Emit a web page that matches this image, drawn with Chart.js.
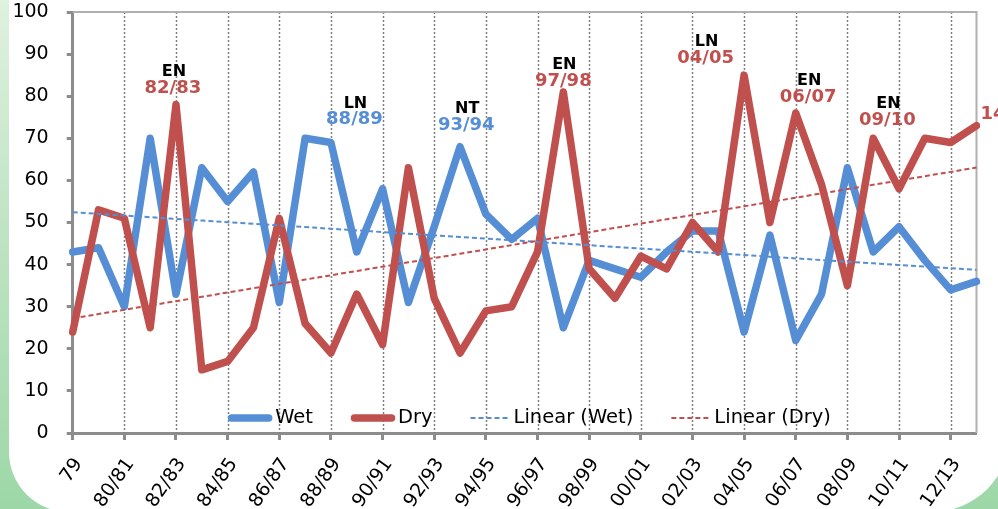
<!DOCTYPE html>
<html>
<head>
<meta charset="utf-8">
<script src="https://cdn.jsdelivr.net/npm/chart.js@4/dist/chart.umd.min.js"></script>
<style>
  html, body { margin: 0; padding: 0; }
  body {
    width: 998px; height: 509px; overflow: hidden; position: relative;
    background: linear-gradient(to bottom, #dff1df 0%, #bfe4c3 45%, #9dd7a7 100%);
  }
  #panel {
    position: absolute; left: 9px; top: -40px; width: 1001px; height: 552px;
    background: #ffffff; border-radius: 14px 14px 78px 60px;
  }
  #chart { position: absolute; left: 0; top: 0; }
</style>
</head>
<body>
<div id="panel"></div>
<canvas id="chart" width="998" height="509"></canvas>
<script>
// Seasons on the category axis (every second one is labelled)
const seasons = [
  '79', '79/80', '80/81', '81/82', '82/83', '83/84', '84/85', '85/86', '86/87', '87/88',
  '88/89', '89/90', '90/91', '91/92', '92/93', '93/94', '94/95', '95/96', '96/97', '97/98',
  '98/99', '99/00', '00/01', '01/02', '02/03', '03/04', '04/05', '05/06', '06/07', '07/08',
  '08/09', '09/10', '10/11', '11/12', '12/13', '13/14'
];

// Wet and dry values per season
const wet = [
  43, 44, 30, 70, 33, 63, 55, 62, 31, 70,
  69, 43, 58, 31, 49, 68, 52, 46, 51, 25,
  41, 39, 37, 43, 48, 48, 24, 47, 22, 33,
  63, 43, 49, 41, 34, 36
];
const dry = [
  24, 53, 51, 25, 78, 15, 17, 25, 51, 26,
  19, 33, 21, 63, 32, 19, 29, 30, 43, 81,
  39, 32, 42, 39, 50, 43, 85, 50, 76, 59,
  35, 70, 58, 70, 69, 73
];

// Value axis
const yMin = 0, yMax = 100, yStep = 10;

// ENSO event notes: event type, season, which series colour
const noteEvents  = ['EN', 'LN', 'NT', 'EN', 'LN', 'EN', 'EN', ''];
const noteSeasons = ['82/83', '88/89', '93/94', '97/98', '04/05', '06/07', '09/10', '14/15'];
const noteSeries  = ['Dry', 'Wet', 'Wet', 'Dry', 'Dry', 'Dry', 'Dry', 'Dry'];
// Where each note sits: anchor category, shift in categories, height in axis units
const notePlacement = [
  { at: '82/83', dx: -0.12, y: 81.9 },
  { at: '88/89', dx: 0.91, y: 74.5 },
  { at: '93/94', dx: 0.24, y: 73.1 },
  { at: '97/98', dx: 0.0, y: 83.6 },
  { at: '04/05', dx: -1.49, y: 89.0 },
  { at: '06/07', dx: 0.48, y: 79.8 },
  { at: '09/10', dx: 0.55, y: 74.3 },
  { at: '13/14', dx: 1.25, y: 75.6 }
];

const BLUE = '#558ed5';
const RED = '#c0504d';
const AXIS = '#8c8c8c';
const FONT = "'DejaVu Sans', Verdana, sans-serif";

// Least-squares straight line through a series (Excel "Linear" trendline)
function linearFit(values) {
  const n = values.length;
  let sx = 0, sy = 0, sxx = 0, sxy = 0;
  values.forEach((v, i) => { sx += i; sy += v; sxx += i * i; sxy += i * v; });
  const b = (n * sxy - sx * sy) / (n * sxx - sx * sx);
  const a = (sy - b * sx) / n;
  return values.map((_, i) => a + b * i);
}

// Dotted season gridlines and the light frame on top/right
const framePlugin = {
  id: 'frame',
  beforeDatasetsDraw(chart) {
    const { ctx, chartArea: a, scales: { x } } = chart;
    ctx.save();
    ctx.strokeStyle = '#7f7f7f';
    ctx.lineWidth = 1.5;
    ctx.setLineDash([2, 2]);
    for (let i = 2; i < seasons.length; i += 2) {
      const px = Math.round(x.getPixelForValue(i)) + 0.5;
      ctx.beginPath();
      ctx.moveTo(px, a.top);
      ctx.lineTo(px, a.bottom);
      ctx.stroke();
    }
    ctx.setLineDash([]);
    ctx.strokeStyle = '#b0b0b0';
    ctx.lineWidth = 2;
    ctx.beginPath();
    ctx.moveTo(a.left, a.top);
    ctx.lineTo(a.right, a.top);
    ctx.lineTo(a.right, a.bottom);
    ctx.stroke();
    ctx.restore();
  }
};

// Legend laid out inside the plot, along its bottom
const legendPlugin = {
  id: 'insideLegend',
  afterDraw(chart) {
    const { ctx, chartArea: a } = chart;
    const y = a.bottom - 15;
    let xPos = a.left + 155.5;
    ctx.save();
    ctx.font = `19.5px ${FONT}`;
    ctx.textBaseline = 'middle';
    ctx.textAlign = 'left';
    chart.data.datasets.slice().sort((p, q) => p.legendRank - q.legendRank).forEach(ds => {
      const sample = ds.borderDash ? 40 : 44;
      ctx.strokeStyle = ds.borderColor;
      if (ds.borderDash) {
        ctx.lineWidth = 2;
        ctx.lineCap = 'butt';
        ctx.setLineDash(ds.borderDash);
        ctx.beginPath();
        ctx.moveTo(xPos, y);
        ctx.lineTo(xPos + sample, y);
        ctx.stroke();
      } else {
        ctx.lineWidth = 7.5;
        ctx.lineCap = 'round';
        ctx.setLineDash([]);
        ctx.beginPath();
        ctx.moveTo(xPos + 3.5, y);
        ctx.lineTo(xPos + sample - 3.5, y);
        ctx.stroke();
      }
      ctx.setLineDash([]);
      ctx.fillStyle = '#000';
      const tx = xPos + sample + 3;
      ctx.fillText(ds.label, tx, y);
      xPos = tx + ctx.measureText(ds.label).width + 38;
    });
    ctx.restore();
  }
};

// ENSO notes above the peaks
const notesPlugin = {
  id: 'ensoNotes',
  afterDraw(chart) {
    const { ctx, scales: { x, y } } = chart;
    const step = x.getPixelForValue(1) - x.getPixelForValue(0);
    ctx.save();
    ctx.textAlign = 'center';
    ctx.textBaseline = 'middle';
    noteSeasons.forEach((season, k) => {
      const p = notePlacement[k];
      const cx = x.getPixelForValue(seasons.indexOf(p.at)) + p.dx * step;
      const cy = y.getPixelForValue(p.y);
      ctx.font = `bold 18px ${FONT}`;
      ctx.fillStyle = noteSeries[k] === 'Wet' ? BLUE : RED;
      ctx.fillText(season, cx, cy);
      if (noteEvents[k]) {
        ctx.font = `bold 16px ${FONT}`;
        ctx.fillStyle = '#000';
        ctx.fillText(noteEvents[k], cx + 1, cy - 16);
      }
    });
    ctx.restore();
  }
};

const lineStyle = {
  pointRadius: 0,
  pointHoverRadius: 0,
  tension: 0,
  fill: false,
  borderJoinStyle: 'round',
  borderCapStyle: 'round'
};

new Chart(document.getElementById('chart'), {
  type: 'line',
  data: {
    labels: seasons,
    datasets: [
      { ...lineStyle, label: 'Wet', data: wet, borderColor: BLUE, borderWidth: 7.5, order: 4, legendRank: 1 },
      { ...lineStyle, label: 'Dry', data: dry, borderColor: RED, borderWidth: 7.5, order: 3, legendRank: 2 },
      { ...lineStyle, label: 'Linear (Wet)', data: linearFit(wet), borderColor: BLUE, borderWidth: 2,
        borderDash: [5, 3], borderCapStyle: 'butt', order: 2, legendRank: 3 },
      { ...lineStyle, label: 'Linear (Dry)', data: linearFit(dry), borderColor: RED, borderWidth: 2,
        borderDash: [5, 3], borderCapStyle: 'butt', order: 1, legendRank: 4 }
    ]
  },
  options: {
    responsive: false,
    animation: false,
    devicePixelRatio: 1,
    layout: { padding: { top: 12, right: 21.5, bottom: 0, left: 0 } },
    plugins: { legend: { display: false }, tooltip: { enabled: false } },
    scales: {
      x: {
        type: 'category',
        offset: false,
        grid: {
          drawOnChartArea: false,
          drawTicks: true,
          tickLength: 7,
          tickWidth: 3,
          tickColor: c => (c.index % 2 === 0 ? AXIS : 'rgba(0,0,0,0)')
        },
        border: { display: true, color: AXIS, width: 3 },
        ticks: {
          autoSkip: false,
          maxRotation: 55,
          minRotation: 55,
          padding: 14,
          labelOffset: 6,
          color: '#000',
          font: { family: FONT, size: 19 },
          callback: (v, i) => (i % 2 === 0 ? seasons[i] : '')
        },
        afterFit: s => { s.height = 76; s.paddingLeft = 0; s.paddingRight = 0; }
      },
      y: {
        min: yMin,
        max: yMax,
        grid: {
          drawOnChartArea: false,
          drawTicks: true,
          tickLength: 6,
          tickWidth: 3,
          tickColor: AXIS
        },
        border: { display: true, color: AXIS, width: 3 },
        ticks: {
          stepSize: yStep,
          padding: 18,
          color: '#000',
          font: { family: FONT, size: 19 }
        },
        afterFit: s => { s.width = 72.7; s.paddingTop = 0; s.paddingBottom = 0; }
      }
    }
  },
  plugins: [framePlugin, legendPlugin, notesPlugin]
});
</script>
</body>
</html>
